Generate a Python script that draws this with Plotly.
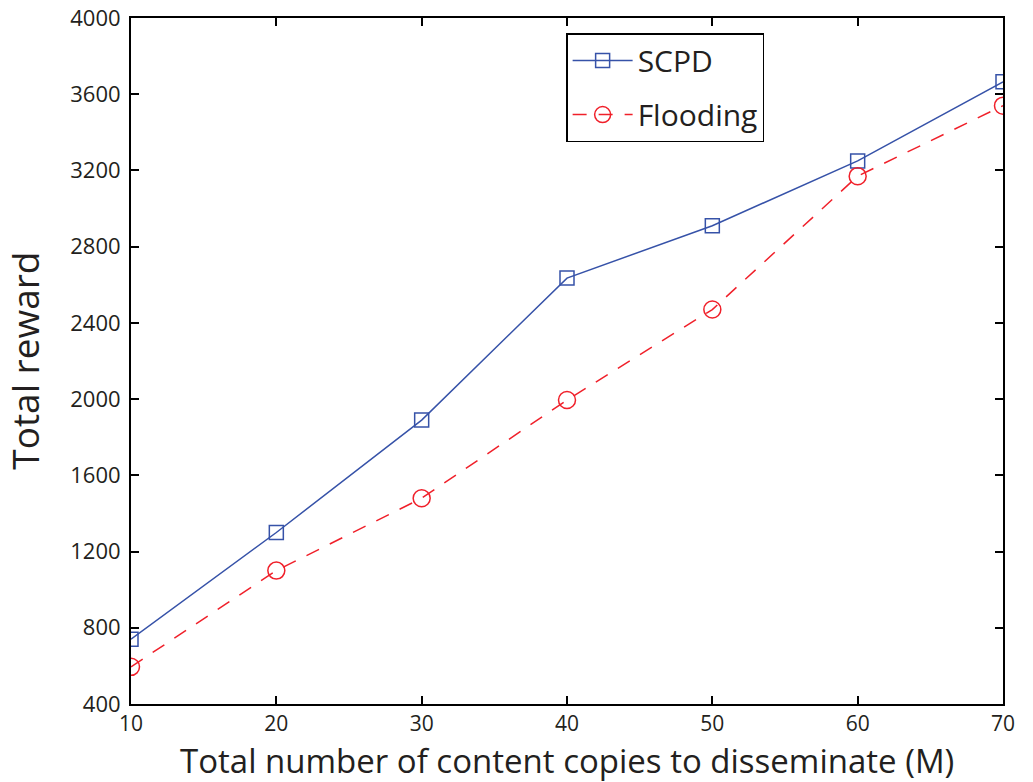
import plotly.graph_objects as go

# Number of content copies disseminated (M)
copies = [10, 20, 30, 40, 50, 60, 70]
# Total reward per scheme
scpd_reward = [740, 1300, 1890, 2635, 2910, 3250, 3665]
flooding_reward = [595, 1100, 1480, 1995, 2470, 3170, 3540]

x_ticks = [10, 20, 30, 40, 50, 60, 70]
y_ticks = [400, 800, 1200, 1600, 2000, 2400, 2800, 3200, 3600, 4000]

FONT = "Open Sans"
TEXT = "#231f20"
BLUE = "#3652a8"
RED = "#f0202a"

fig = go.Figure()
fig.add_trace(go.Scatter(
    x=copies, y=scpd_reward, name="SCPD", mode="lines+markers",
    legendgroup="a",
    line=dict(color=BLUE, width=1.5),
    marker=dict(symbol="square-open", size=14, color=BLUE, line=dict(width=1.5)),
))
fig.add_trace(go.Scatter(
    x=copies, y=flooding_reward, name="Flooding", mode="lines+markers",
    legendgroup="b",
    line=dict(color=RED, width=1.5, dash="14px,12px"),
    marker=dict(symbol="circle-open", size=17, color=RED, line=dict(width=1.5)),
))

axis_common = dict(
    showline=True, linecolor="black", linewidth=2, mirror="ticks",
    ticks="inside", ticklen=8, tickwidth=1.5, tickcolor="black",
    showgrid=False, zeroline=False, automargin=False,
)

fig.update_layout(
    width=1033, height=782,
    margin=dict(l=131, r=30, t=18, b=78),
    paper_bgcolor="white", plot_bgcolor="white",
    font=dict(family=FONT, color=TEXT),
    xaxis=dict(range=[10, 70], tickvals=x_ticks, ticklabelstandoff=0,
               tickfont=dict(family=FONT, size=21, color=TEXT), **axis_common),
    yaxis=dict(range=[400, 4000], tickvals=y_ticks, ticklabelstandoff=4,
               tickfont=dict(family=FONT, size=22, color=TEXT), **axis_common),
    legend=dict(
        x=0.499, y=0.978, xanchor="left", yanchor="top",
        bgcolor="white", bordercolor="black", borderwidth=1.5,
        font=dict(family=FONT, size=30, color=TEXT),
        traceorder="grouped", tracegroupgap=12, itemwidth=60,
    ),
    showlegend=True,
)

# Axis titles
fig.add_annotation(
    text="Total number of content copies to disseminate (M)",
    xref="paper", yref="paper", x=0.5, y=-0.083, xanchor="center", yanchor="middle",
    showarrow=False, font=dict(family=FONT, size=33, color=TEXT),
)
fig.add_annotation(
    text="Total reward", textangle=-90,
    xref="paper", yref="paper", x=-0.123, y=0.5, xanchor="center", yanchor="middle",
    showarrow=False, font=dict(family=FONT, size=37, color=TEXT),
)

fig.write_html("out.html")
